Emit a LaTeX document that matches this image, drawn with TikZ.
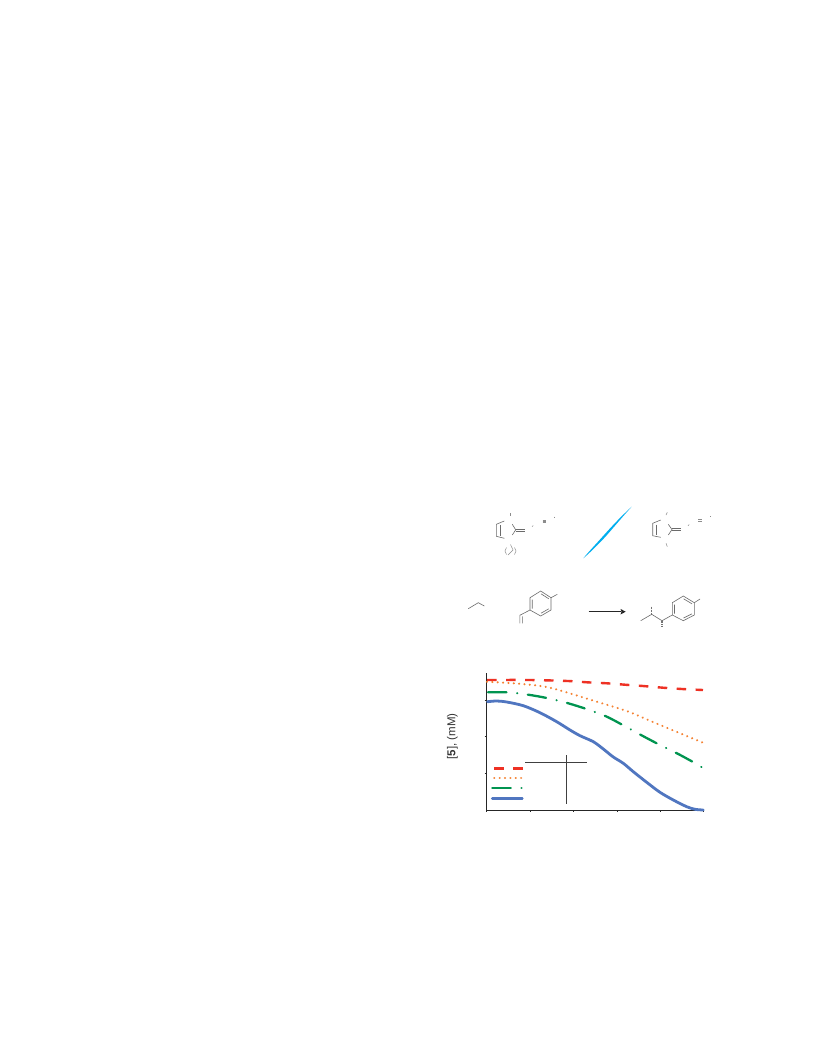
\documentclass[tikz,border=0pt]{standalone}
\usepackage{fontspec}
\setmainfont{Liberation Sans}
\definecolor{cred}{RGB}{238,49,36}
\definecolor{corange}{RGB}{245,130,50}
\definecolor{cgreen}{RGB}{0,148,80}
\definecolor{cblue}{RGB}{80,118,192}
\definecolor{ccyan}{RGB}{0,174,239}
\tikzset{
  bond/.style={draw=black!58,line width=0.6bp},
  faint/.style={draw=black!45,line width=0.5bp},
  hash/.style={draw=black!55,line width=1.3bp,dash pattern=on 0.7bp off 0.9bp},
  axisline/.style={draw=black!85,line width=0.7bp},
  tablerule/.style={draw=black!75,line width=0.8bp},
  redcurve/.style={draw=cred,line width=2.4bp,dash pattern=on 9.5bp off 9.5bp},
  orangecurve/.style={draw=corange,line width=2.3bp,line cap=round,dash pattern=on 0.01bp off 5.35bp},
  greencurve/.style={draw=cgreen,line width=2.3bp,line cap=round,dash pattern=on 18.5bp off 10.75bp on 0.01bp off 10.75bp},
  bluecurve/.style={draw=cblue,line width=2.8bp,line cap=round},
  ylab/.style={font=\fontsize{11.5bp}{13bp}\selectfont,text=black!80,inner sep=0pt}
}
\begin{document}
\begin{tikzpicture}[x=1bp,y=-1bp]
\useasboundingbox (0,0) rectangle (816,1056);
\fill[white] (0,0) rectangle (816,1056);
% left imidazolylidene
\draw[bond] (504.3,521)--(496.3,524.3)--(496.3,536.3)--(504.3,538.3);
\draw[bond] (499.8,525.3)--(499.8,535.5);
\draw[bond] (512.3,524.3)--(515.7,529.8)--(512.3,535);
\draw[bond] (515.7,529.2)--(524.7,529.2) (515.7,531.6)--(524.7,531.6);
\draw[faint] (510.3,513.2)--(510.3,515.8);
\draw[faint] (532,526.6)--(533.2,525.6);
\draw[faint] (542.6,520.2)--(546,520.2) (542.6,521.2)--(546,521.2) (542.6,522.2)--(546,522.2);
\draw[faint] (554.3,516.6)--(554.3,518);
\draw[faint] (510.5,544.5)--(513,550)--(508,555);
\draw[faint] (506.5,547.5)..controls (504.5,550) and (504.5,552) .. (506.5,554.5);
\draw[faint] (514.5,547.5)..controls (516.5,550) and (516.5,552) .. (514.5,554.5);
% cyan slash
\fill[ccyan] (583.3,558.3)..controls (590,552.5) and (598,544.8) .. (605.8,536.3)
  ..controls (614,527) and (624,515) .. (631.7,506.7)
  ..controls (622,515.5) and (612,526) .. (604.3,534.7)
  ..controls (596,544) and (588,552.5) .. (583.3,558.3)--cycle;
% right imidazolylidene
\draw[bond] (660.7,520)--(652.7,523.3)--(652.7,535.7)--(660.7,537.3);
\draw[bond] (656.3,524.5)--(656.3,535);
\draw[bond] (668.3,524.3)--(672,529.5)--(668.3,535);
\draw[bond] (672,528.3)--(680.7,528.3) (672,530.7)--(680.7,530.7);
\draw[faint] (667.3,512.3)--(666,515);
\draw[faint] (666,543.3)--(667.3,546.7);
\draw[faint] (688,525.8)--(689.2,524.6);
\draw[faint] (698.3,519)--(702.3,519) (698.3,521.2)--(702.3,521.2);
\draw[faint] (710.3,516)--(710.3,517.4);
% propyl fragment
\draw[bond] (468.3,608.7)--(478.3,602.7)--(484.3,606);
% styrene
\draw[bond] (530,597.7)--(540.7,591)--(551,597.7)--(551,610)--(540.7,616)--(530,610)--cycle;
\draw[bond] (532.2,599.5)--(532.2,608.5) (541,593.8)--(548.8,598.8) (541,613.2)--(548.8,608.8);
\draw[bond] (551,597.7)--(557.3,594.3);
\draw[bond] (530,610)--(519.8,615.3)--(519.8,623.3) (522.4,616.3)--(522.4,623.3);
% arrow
\coordinate (arrowstart) at (588.7,611.7);
\coordinate (arrowend) at (625.7,611.7);
\draw[draw=black!85,line width=0.7bp] (arrowstart)--(621,611.7);
\fill[black!85] (arrowend)--(620.5,608.9)--(621.5,611.7)--(620.5,614.5)--cycle;
% product
\draw[bond] (672.3,602.7)--(683.3,596)--(694.3,602.7)--(694.3,615)--(683.3,620.7)--(672.3,615)--cycle;
\draw[bond] (674.5,604.5)--(674.5,613.5) (683.6,598.8)--(692,603.8) (683.6,618)--(692,613.8);
\draw[bond] (694.3,602.7)--(700,599);
\draw[bond] (672.3,615)--(662,620.7)--(651.7,614.3)--(640.7,620.7);
\draw[hash] (651.7,606.5)--(651.7,614.3);
\draw[hash] (662,620.7)--(662,627);
% axes
\draw[axisline] (486.3,673)--(486.3,810)--(703.5,810);
\foreach \tx in {486.3,530,573.2,617.2,660.5,703.5}{\draw[axisline] (\tx,810)--(\tx,812);}
\foreach \ty in {700,736,773}{\draw[axisline] (484.5,\ty)--(486.3,\ty);}
% curves
\draw[redcurve] plot[smooth,tension=0.5] coordinates {(487,680)(530,680)(568,681)(587,682.3)(607,683.3)(625,684.7)(643,686)(663,687.7)(682,689)(703,690)};
\draw[orangecurve] plot[smooth,tension=0.5] coordinates {(487,681.7)(520,683.8)(546.7,687)(573,694.3)(596.7,701.7)(626.7,711)(653,722)(680,733.3)(703,742.7)};
\draw[greencurve] plot[smooth,tension=0.5] coordinates {(488,692.3)(508,692.3)(528.3,694.7)(548.3,698.3)(568.3,703.3)(587.3,709.3)(606,716.3)(624,725.7)(642.3,735.7)(660,745)(678.3,754)(696,763.7)(703.3,768.3)};
\draw[bluecurve] plot[smooth,tension=0.5] coordinates {(487.5,701.7)(496.7,701)(506.7,702)(523.3,705.7)(540,712.7)(556.7,721.7)(570,730)(580,735.7)(593.3,741.7)(603.3,749)(613,756.8)(623.3,763.3)(633.3,771.7)(646.7,782.3)(660,792.3)(673.3,800)(686.7,806.7)(695,809.3)(703.3,810)};
% legend
\draw[redcurve,dash pattern=on 9.7bp off 9.3bp] (494.3,768.3)--(523.3,768.3);
\draw[orangecurve] (494.3,778.3)--(522.5,778.3);
\draw[greencurve] (492.3,788.3)--(523.2,788.3);
\draw[bluecurve] (492.3,798.7)--(522.3,798.7);
% table rules
\draw[tablerule] (525,762.7)--(587,762.7);
\draw[tablerule] (566.7,755)--(566.7,804);
% y label
\node[ylab,rotate=90] (ylabel) at (452.5,736.5) {[\textbf{5}], (mM)};
\end{tikzpicture}
\end{document}
